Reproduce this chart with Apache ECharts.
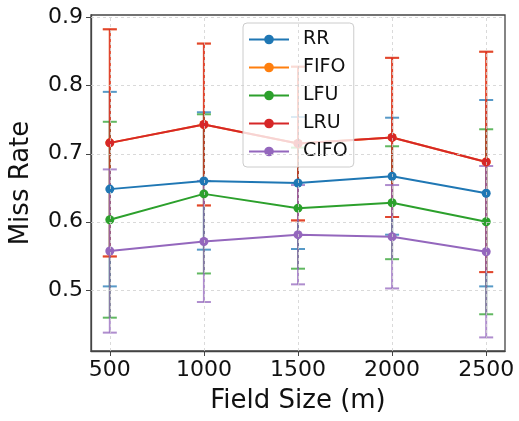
<!DOCTYPE html>
<html>
<head>
<meta charset="utf-8">
<script src="https://cdn.jsdelivr.net/npm/echarts@6/dist/echarts.min.js"></script>
<style>html,body{margin:0;padding:0;background:#fff;}#c{width:519px;height:421px;}</style>
</head>
<body>
<div id="c"></div>
<script>
const fieldSizes = [500, 1000, 1500, 2000, 2500];
const xTicks = [500, 1000, 1500, 2000, 2500];
const yTicks = [0.5, 0.6, 0.7, 0.8, 0.9];

const rrMean   = [0.648, 0.660, 0.657, 0.667, 0.642];
const rrStd    = [0.143, 0.101, 0.097, 0.086, 0.137];
const fifoMean = [0.716, 0.743, 0.715, 0.724, 0.688];
const fifoStd  = [0.167, 0.119, 0.113, 0.117, 0.162];
const lfuMean  = [0.603, 0.641, 0.620, 0.628, 0.600];
const lfuStd   = [0.144, 0.117, 0.089, 0.083, 0.136];
const lruMean  = [0.716, 0.743, 0.715, 0.724, 0.688];
const lruStd   = [0.167, 0.119, 0.113, 0.117, 0.162];
const cifoMean = [0.557, 0.571, 0.581, 0.578, 0.556];
const cifoStd  = [0.120, 0.089, 0.073, 0.076, 0.126];

const seriesDefs = [
  {name: 'RR',   mean: rrMean,   std: rrStd,   color: '#1f77b4'},
  {name: 'FIFO', mean: fifoMean, std: fifoStd, color: '#ff7f0e'},
  {name: 'LFU',  mean: lfuMean,  std: lfuStd,  color: '#2ca02c'},
  {name: 'LRU',  mean: lruMean,  std: lruStd,  color: '#d62728'},
  {name: 'CIFO', mean: cifoMean, std: cifoStd, color: '#9467bd'}
];

const FONT = 'DejaVu Sans';
const series = [];
// grid lines
series.push({
  type: 'line', data: [], silent: true, z: 0,
  markLine: {
    silent: true, symbol: ['none', 'none'], animation: false,
    label: {show: false},
    lineStyle: {color: '#d0d0d0', type: [3, 3], width: 0.8},
    data: xTicks.map(v => ({xAxis: v})).concat(yTicks.map(v => ({yAxis: v})))
  }
});

seriesDefs.forEach(s => {
  const errData = fieldSizes.map((x, i) => [x, s.mean[i] - s.std[i], s.mean[i] + s.std[i]]);
  series.push({
    type: 'custom',
    name: s.name + '_err',
    data: errData,
    z: 2,
    silent: true,
    renderItem: function (params, api) {
      const x = api.value(0);
      const lo = api.coord([x, api.value(1)]);
      const hi = api.coord([x, api.value(2)]);
      const hw = 7;
      const style = {stroke: s.color, lineWidth: 2, opacity: 0.75};
      return {
        type: 'group',
        children: [
          {type: 'line', shape: {x1: lo[0], y1: lo[1], x2: hi[0], y2: hi[1]}, style: style},
          {type: 'line', shape: {x1: lo[0] - hw, y1: lo[1], x2: lo[0] + hw, y2: lo[1]}, style: style},
          {type: 'line', shape: {x1: hi[0] - hw, y1: hi[1], x2: hi[0] + hw, y2: hi[1]}, style: style}
        ]
      };
    }
  });
  series.push({
    type: 'line',
    name: s.name,
    data: fieldSizes.map((x, i) => [x, s.mean[i]]),
    z: 2,
    symbol: 'circle',
    symbolSize: 9,
    showSymbol: true,
    lineStyle: {color: s.color, width: 2},
    itemStyle: {color: s.color},
    emphasis: {disabled: true},
    animation: false
  });
});

const chart = echarts.init(document.getElementById('c'), null, {renderer: 'canvas'});
chart.setOption({
  animation: false,
  backgroundColor: '#fff',
  grid: {left: 91, right: 14, top: 15, bottom: 70, show: true, borderColor: '#444', borderWidth: 1.3, backgroundColor: 'transparent'},
  legend: {
    data: seriesDefs.map(s => s.name),
    orient: 'vertical',
    left: 243, top: 23,
    itemWidth: 40, itemHeight: 12,
    itemGap: 9,
    textStyle: {fontFamily: FONT, fontSize: 19, color: '#111', padding: [0, 0, 0, 9]},
    backgroundColor: 'rgba(255,255,255,0.8)',
    borderColor: '#ccc', borderWidth: 1, borderRadius: 4,
    padding: [7, 6, 6, 5],
    selectedMode: false
  },
  xAxis: {
    type: 'value', min: 400, max: 2600,
    name: 'Field Size (m)', nameLocation: 'middle', nameGap: 37,
    nameTextStyle: {fontFamily: FONT, fontSize: 26, color: '#111'},
    axisLine: {show: true, lineStyle: {color: '#444', width: 1.3}},
    axisTick: {show: true, customValues: xTicks, length: 5, lineStyle: {color: '#444'}},
    axisLabel: {customValues: xTicks, fontFamily: FONT, fontSize: 22, color: '#111', margin: 8,
      formatter: v => String(v)},
    splitLine: {show: false}
  },
  yAxis: {
    type: 'value', min: 0.41, max: 0.904,
    name: 'Miss Rate', nameLocation: 'middle', nameGap: 57, nameRotate: 90,
    nameTextStyle: {fontFamily: FONT, fontSize: 26, color: '#111'},
    axisLine: {show: true, lineStyle: {color: '#444', width: 1.3}},
    axisTick: {show: true, customValues: yTicks, length: 5, lineStyle: {color: '#444'}},
    axisLabel: {customValues: yTicks, fontFamily: FONT, fontSize: 22, color: '#111', margin: 8,
      formatter: v => Number(v).toFixed(1)},
    splitLine: {show: false}
  },
  series: series
});
</script>
</body>
</html>
